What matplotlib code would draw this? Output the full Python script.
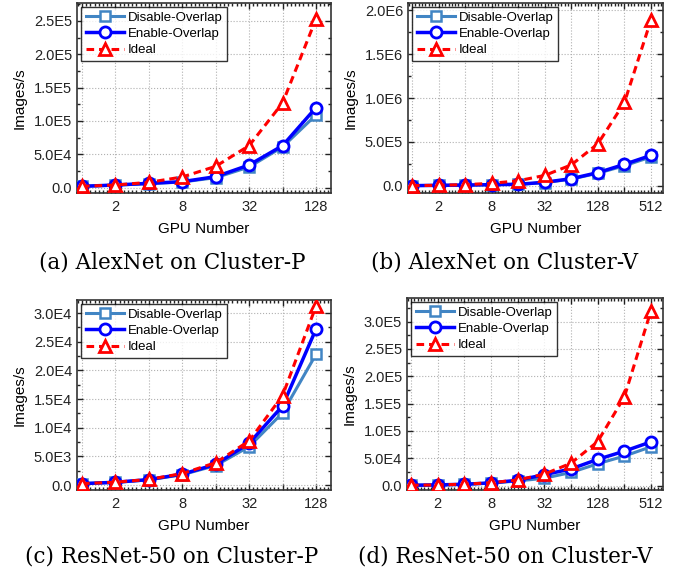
import numpy as np
import matplotlib
matplotlib.use("Agg")
import matplotlib.pyplot as plt
from matplotlib.ticker import (FixedLocator, FuncFormatter, MultipleLocator,
                               AutoMinorLocator, NullFormatter)

plt.rcParams["font.family"] = ["Liberation Sans", "DejaVu Sans"]

gpus_p = [1, 2, 4, 8, 16, 32, 64, 128]
gpus_v = [1, 2, 4, 8, 16, 32, 64, 128, 256, 512]

# (a) AlexNet on Cluster-P
alex_p_disable = [2.0e3, 3.8e3, 6.0e3, 8.5e3, 1.5e4, 3.1e4, 6.1e4, 1.09e5]
alex_p_enable = [2.0e3, 4.0e3, 6.5e3, 9.0e3, 1.65e4, 3.4e4, 6.3e4, 1.2e5]
alex_p_ideal = [2.0e3, 4.0e3, 8.0e3, 1.6e4, 3.2e4, 6.3e4, 1.27e5, 2.53e5]

# (b) AlexNet on Cluster-V
alex_v_disable = [3.7e3, 6.5e3, 9.5e3, 1.4e4, 1.8e4, 3.8e4, 7.8e4, 1.45e5, 2.3e5, 3.3e5]
alex_v_enable = [3.7e3, 7.0e3, 1.0e4, 1.5e4, 1.9e4, 4.2e4, 8.3e4, 1.52e5, 2.46e5, 3.48e5]
alex_v_ideal = [3.7e3, 7.4e3, 1.5e4, 3.0e4, 5.9e4, 1.2e5, 2.4e5, 4.8e5, 9.5e5, 1.89e6]

# (c) ResNet-50 on Cluster-P
res_p_disable = [2.4e2, 4.6e2, 9.0e2, 1.8e3, 3.4e3, 6.7e3, 1.26e4, 2.28e4]
res_p_enable = [2.4e2, 4.8e2, 9.5e2, 1.9e3, 3.6e3, 7.3e3, 1.38e4, 2.72e4]
res_p_ideal = [2.4e2, 4.9e2, 9.8e2, 2.0e3, 3.9e3, 7.7e3, 1.56e4, 3.12e4]

# (d) ResNet-50 on Cluster-V
res_v_disable = [6.3e2, 1.2e3, 2.4e3, 4.6e3, 8.5e3, 1.35e4, 2.4e4, 4.0e4, 5.4e4, 7.1e4]
res_v_enable = [6.3e2, 1.3e3, 2.5e3, 5.0e3, 9.8e3, 2.0e4, 3.05e4, 4.8e4, 6.3e4, 8.0e4]
res_v_ideal = [6.3e2, 1.3e3, 2.6e3, 5.2e3, 1.04e4, 2.1e4, 4.1e4, 8.05e4, 1.62e5, 3.2e5]

panels = [
    ("(a) AlexNet on Cluster-P", gpus_p, alex_p_disable, alex_p_enable, alex_p_ideal,
     (-8e3, 2.77e5), 5e4),
    ("(b) AlexNet on Cluster-V", gpus_v, alex_v_disable, alex_v_enable, alex_v_ideal,
     (-8e4, 2.08e6), 5e5),
    ("(c) ResNet-50 on Cluster-P", gpus_p, res_p_disable, res_p_enable, res_p_ideal,
     (-870, 3.23e4), 5e3),
    ("(d) ResNet-50 on Cluster-V", gpus_v, res_v_disable, res_v_enable, res_v_ideal,
     (-8e3, 3.43e5), 5e4),
]

# axes boxes in pixels: left, top, right, bottom; caption centre x, y
boxes = [(77, 3, 331, 193), (408, 3, 663, 193), (77, 300, 331, 490), (407, 298, 663, 490)]
caption_pos = [(172, 262), (505, 262), (172, 556), (505, 556)]

W, H = 678, 573
fig = plt.figure(figsize=(W / 100, H / 100), dpi=100)


def sci_fmt(v, pos):
    if abs(v) < 1e-9:
        return "0.0"
    exp = int(np.floor(np.log10(abs(v))))
    mant = v / 10 ** exp
    return f"{mant:.1f}E{exp}"


def x_fmt(v, pos):
    k = int(round(np.log2(v)))
    return str(int(round(v))) if k % 2 == 1 else ""


for (caption, gpus, dis, ena, ide, ylim, ystep), (l, t, r, b), (cx, cy) in zip(
        panels, boxes, caption_pos):
    ax = fig.add_axes([l / W, 1 - b / H, (r - l) / W, (b - t) / H])
    ax.set_xscale("log", base=2)

    ax.plot(gpus, dis, color="#4185c4", lw=2.2, marker="s", ms=6.5,
            mfc="white", mew=1.8, label="Disable-Overlap", zorder=3)
    ax.plot(gpus, ena, color="#0000ff", lw=2.5, marker="o", ms=8,
            mfc="white", mew=2, label="Enable-Overlap", zorder=4)
    ax.plot(gpus, ide, color="#ff0000", lw=2.2, ls=(0, (2.5, 1.6)), marker="^", ms=9,
            mfc="white", mew=2, label="Ideal", zorder=5)

    ax.set_xlim(2 ** -0.15, gpus[-1] * 2 ** 0.45)
    ax.set_ylim(*ylim)

    ax.xaxis.set_major_locator(FixedLocator(gpus))
    ax.xaxis.set_major_formatter(FuncFormatter(x_fmt))
    minors = [g * 2 ** (k / 8) for g in [0.5] + gpus for k in range(1, 8)]
    ax.xaxis.set_minor_locator(FixedLocator(minors))
    ax.xaxis.set_minor_formatter(NullFormatter())
    ax.yaxis.set_major_locator(MultipleLocator(ystep))
    ax.yaxis.set_major_formatter(FuncFormatter(sci_fmt))
    ax.yaxis.set_minor_locator(AutoMinorLocator(2))

    ax.tick_params(which="both", direction="in", top=True, right=True,
                   labelsize=10.5, colors="#222222", width=1)
    ax.tick_params(which="major", length=4)
    ax.tick_params(which="minor", length=2.5)
    ax.tick_params(axis="x", which="major", pad=5)

    ax.grid(True, which="major", color="#b0b0b0", ls=":", lw=0.8)
    for sp in ax.spines.values():
        sp.set_linewidth(1.2)
        sp.set_color("#333333")

    ax.set_xlabel("GPU Number", fontsize=11, labelpad=6)
    ax.set_ylabel("Images/s", fontsize=11, labelpad=5)

    leg = ax.legend(loc="upper left", fontsize=9.5, frameon=True, fancybox=False,
                    edgecolor="black", handlelength=2.9, borderpad=0.35,
                    labelspacing=0.3, handletextpad=0.3, borderaxespad=0.3)
    leg.get_frame().set_linewidth(1.0)

    fig.text(cx / W, 1 - cy / H, caption, ha="center", va="center",
             fontsize=15.5, family="DejaVu Serif")

fig.savefig("out.png", dpi=100)
